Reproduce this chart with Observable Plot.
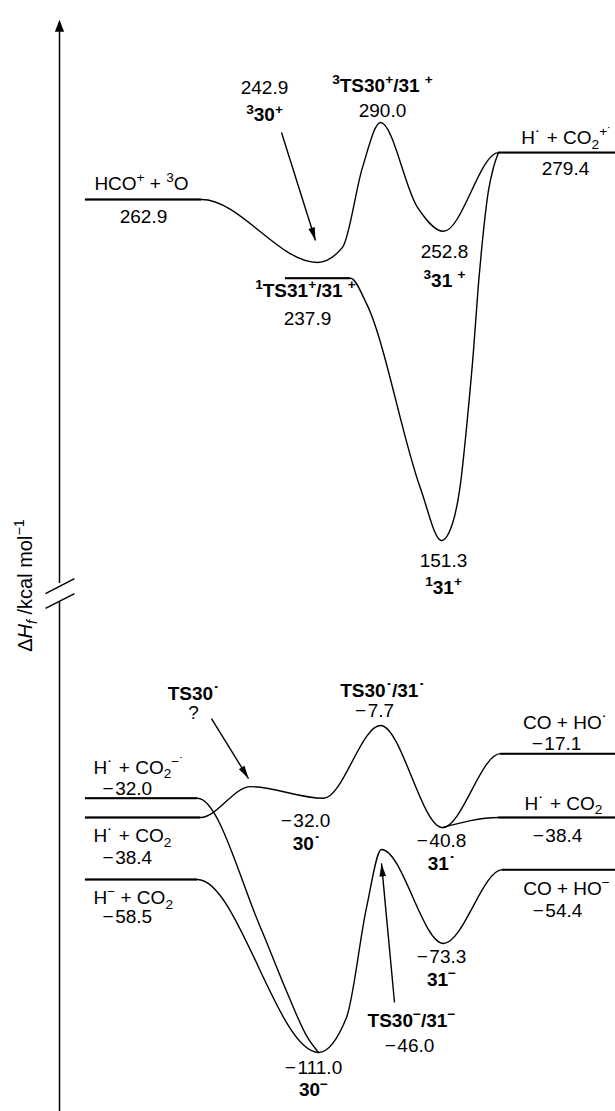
<!DOCTYPE html>
<html>
<head>
<meta charset="utf-8">
<script src="https://cdn.jsdelivr.net/npm/d3@7"></script>
<script src="https://cdn.jsdelivr.net/npm/@observablehq/plot@0.6"></script>
<style>
  html, body { margin: 0; padding: 0; background: #fff; }
  #chart svg { display: block; }
</style>
</head>
<body>
<div id="chart"></div>
<script>
// ---------- data: reaction coordinate (rc) vs ΔHf (kcal/mol) ----------
// Upper (cationic) manifold
const tripletCation = [[85, 262.9], [201, 262.9], [317, 242.9], [342, 247.7], [362, 274.2], [380, 290.0], [417, 260.4], [443, 252.8], [498, 279.4], [615, 279.4]];
const singletCation = [[285, 237.9], [350, 237.9], [366, 229.5], [420, 168.5], [441, 151.3], [452, 156.9], [460, 170.1], [467, 191.9], [473, 214.0], [478, 236.2], [481, 246.7], [488, 266.1], [493, 274.2], [498, 279.4]];
// Lower (radical / anion) manifold
const radicalPath = [[85, -38.4], [200, -38.4], [250, -28.1], [323, -32.0], [380, -7.7], [442, -40.8], [500, -17.1], [615, -17.1]];
const radicalExit = [[442, -40.8], [498, -38.4], [615, -38.4]];
const radicalAnionEntry = [[85, -32.0], [197, -32.0], [260, -69.6], [287, -90.6], [307, -105.8], [318, -111.0]];
const anionPath = [[85, -58.5], [197, -58.5], [318, -111.0], [346, -98.9], [366, -65.0], [381, -46.0], [443, -73.3], [502, -54.4], [615, -54.4]];

const curves = [tripletCation, singletCation, radicalPath, radicalExit, radicalAnionEntry, anionPath];

// pointer arrows [rc1, E1, rc2, E2]
const pointers = [[281, 286.5, 315, 249.9], [211, -1.7, 248, -25.4], [394, -93.7, 381, -51.8]];

// labels: text, rc, energy, bold, anchor
const labels = [
  ["HCO^{+} + ^{3}O", 141, 268.5, 0, "middle"],
  ["262.9", 143, 257.5, 0, "middle"],
  ["242.9", 264, 302.3, 0, "middle"],
  ["^{3}30^{+}", 264, 292.5, 1, "middle"],
  ["^{3}TS30^{+}/31 ^{+}", 382, 303.0, 1, "middle"],
  ["290.0", 382, 294.2, 0, "middle"],
  ["H˙ + CO_{2}^{+˙}", 566, 284.7, 0, "middle"],
  ["279.4", 565, 273.8, 0, "middle"],
  ["252.8", 444, 246.1, 0, "middle"],
  ["^{3}31 ^{+}", 444, 237.1, 1, "middle"],
  ["^{1}TS31^{+}/31 ^{+}", 305, 233.8, 1, "middle"],
  ["237.9", 307, 224.6, 0, "middle"],
  ["151.3", 443, 134.1, 0, "middle"],
  ["^{1}31^{+}", 443, 110.9, 1, "middle"],
  ["H˙ + CO_{2}^{−˙}", 93, -21.7, 0, "start"],
  ["−\u200A32.0", 102, -28.7, 0, "start"],
  ["H˙ + CO_{2}", 93, -42.7, 0, "start"],
  ["−\u200A38.4", 102, -49.3, 0, "start"],
  ["H^{−} + CO_{2}", 93, -62.7, 0, "start"],
  ["−\u200A58.5", 102, -67.1, 0, "start"],
  ["TS30˙", 193, 19.8, 1, "middle"],
  ["?", 193, 3.5, 0, "middle"],
  ["TS30˙/31˙", 382, 22.4, 1, "middle"],
  ["−\u200A7.7", 374, 5.2, 0, "middle"],
  ["CO + HO˙", 565, -5.1, 0, "middle"],
  ["−\u200A17.1", 556, -13.7, 0, "middle"],
  ["H˙ + CO_{2}", 563, -33.7, 0, "middle"],
  ["−\u200A38.4", 557, -42.7, 0, "middle"],
  ["−\u200A32.0", 305, -39.1, 0, "middle"],
  ["30˙", 306, -44.6, 1, "middle"],
  ["−\u200A40.8", 441, -43.9, 0, "middle"],
  ["31˙", 441, -51.8, 1, "middle"],
  ["CO + HO^{−}", 566, -60.6, 0, "middle"],
  ["−\u200A54.4", 557, -65.7, 0, "middle"],
  ["−\u200A73.3", 441, -78.1, 0, "middle"],
  ["31^{−}", 441, -85.8, 1, "middle"],
  ["TS30^{−}/31^{−}", 411, -99.9, 1, "middle"],
  ["−\u200A46.0", 409, -108.6, 0, "middle"],
  ["−\u200A111.0", 313, -116.5, 0, "middle"],
  ["30^{−}", 313, -124.1, 1, "middle"]
];

const axisTitle = "Δ*{H}%{f} /kcal mol^{−1}";
const axisRc = 59;
const axisSegments = [[-131.4, 98.0], [114.4, 324.5]];
const axisTip = [[59, 326.2]];
const breakMarks = [[45, 105.7, 74, 118.6], [45, 92.9, 74, 105.7]];

// schematic (piecewise) energy axis
const energyStops = [-111, -73.3, -58.5, -46, -38.4, -7.7, 151.3, 237.9, 262.9, 290];
const pixelStops = [1052, 943, 879, 849, 817, 725, 540, 277.7, 199, 122];

// ---------- build ----------
const yScaleOpts = {type: "linear", domain: energyStops, range: pixelStops};
const yS = Plot.scale({y: yScaleOpts});
// heading (degrees, clockwise from up) of an arrow in screen space
const heading = d => Math.atan2(d[2] - d[0], -(yS.apply(d[3]) - yS.apply(d[1]))) * 180 / Math.PI;

// filled arrowheads with the tip at the symbol origin
const headSymbol = (halfW, len) => ({draw(ctx) { ctx.moveTo(0, 0); ctx.lineTo(halfW, len); ctx.lineTo(-halfW, len); ctx.closePath(); }});
const pointerHead = headSymbol(3.3, 13);
const axisHead = headSymbol(4.6, 12);

const flats = [];
for (const c of curves) {
  for (let i = 0; i + 1 < c.length; i++) {
    if (c[i][1] === c[i + 1][1]) flats.push({x1: c[i][0], x2: c[i + 1][0], e: c[i][1]});
  }
}
const lab = labels.map(([t, x, e, b, a]) => ({t, x, e, b, a}));
const FS = 19;
const textMarks = [];
for (const b of [0, 1]) for (const a of ["start", "middle"]) {
  const sub = lab.filter(d => d.b === b && d.a === a);
  if (sub.length) textMarks.push(Plot.text(sub, {x: "x", y: "e", text: "t", textAnchor: a, fontWeight: b ? "bold" : "normal", fontSize: FS, fill: "#000"}));
}

const chart = Plot.plot({
  width: 615,
  height: 1111,
  margin: 0,
  x: {domain: [0, 615], range: [0, 615], axis: null},
  y: {...yScaleOpts, axis: null},
  style: {fontFamily: "'Liberation Sans', Arial, Helvetica, sans-serif", background: "#fff", color: "#000"},
  marks: [
    Plot.ruleX(axisSegments, {x: () => axisRc, y1: d => d[0], y2: d => d[1], stroke: "#000", strokeWidth: 1.5}),
    Plot.dot(axisTip, {x: d => d[0], y: d => d[1], symbol: axisHead, fill: "#000", stroke: "none"}),
    Plot.link(breakMarks, {x1: d => d[0], y1: d => d[1], x2: d => d[2], y2: d => d[3], stroke: "#000", strokeWidth: 1.5}),
    ...curves.map(c => Plot.line(c, {x: d => d[0], y: d => d[1], curve: "monotone-x", stroke: "#000", strokeWidth: 1.4})),
    Plot.ruleY(flats, {y: "e", x1: "x1", x2: "x2", stroke: "#000", strokeWidth: 2}),
    Plot.link(pointers, {x1: d => d[0], y1: d => d[1], x2: d => d[2], y2: d => d[3], stroke: "#000", strokeWidth: 1.4}),
    Plot.dot(pointers, {x: d => d[2], y: d => d[3], rotate: heading, symbol: pointerHead, fill: "#000", stroke: "none"}),
    ...textMarks,
    Plot.text([axisTitle], {x: () => 25, y: () => 112.6, text: d => d, rotate: -90, fontSize: 20, fill: "#000"})
  ]
});
document.getElementById("chart").appendChild(chart);

// ---------- rich text: ^{sup} _{sub} *{italic} %{italic sub} ----------
const NS = "http://www.w3.org/2000/svg";
chart.querySelectorAll("text").forEach(el => {
  const s = el.textContent;
  if (!/[\^_*%]\{/.test(s)) return;
  const fs = parseFloat(getComputedStyle(el).fontSize) || FS;
  const d0 = el.getAttribute("dy");
  let base = 0;
  if (d0) base = d0.endsWith("em") ? parseFloat(d0) * fs : parseFloat(d0);
  el.removeAttribute("dy");
  el.textContent = "";
  const re = /([\^_*%])\{([^}]*)\}|([^\^_*%]+)/g;
  let m, cur = 0, first = true;
  while ((m = re.exec(s))) {
    const t = document.createElementNS(NS, "tspan");
    let target = 0, txt;
    if (m[1]) {
      txt = m[2];
      if (m[1] === "^") { target = -0.40 * fs; t.setAttribute("font-size", (0.72 * fs).toFixed(2)); }
      else if (m[1] === "_" || m[1] === "%") { target = 0.26 * fs; t.setAttribute("font-size", (0.72 * fs).toFixed(2)); }
      if (m[1] === "*" || m[1] === "%") t.setAttribute("font-style", "italic");
    } else txt = m[3];
    const dy = target - cur + (first ? base : 0);
    if (Math.abs(dy) > 1e-6) t.setAttribute("dy", dy.toFixed(2));
    cur = target; first = false;
    t.textContent = txt;
    el.appendChild(t);
  }
});
</script>
</body>
</html>
